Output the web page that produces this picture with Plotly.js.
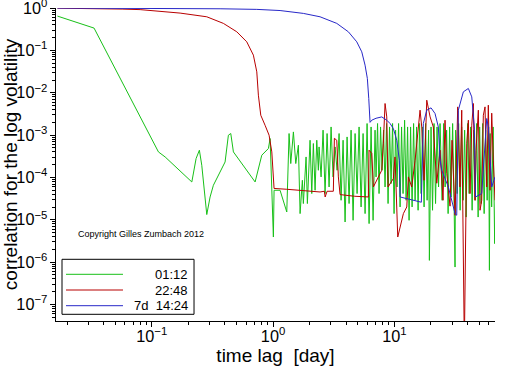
<!DOCTYPE html>
<html>
<head>
<meta charset="utf-8">
<script src="https://cdn.plot.ly/plotly-3.0.1.min.js"></script>
<style>html,body{margin:0;padding:0;background:#fff;}#chart{width:512px;height:366px;}</style>
</head>
<body>
<div id="chart"></div>
<script>
// ---- data (time lag in days, correlation) ----
const seriesNames = ['01:12', '22:48', '7d  14:24'];
const seriesColors = ['#18c018', '#b80000', '#2828c8'];

const greenX = [0.01667, 0.0334, 0.1134, 0.1288, 0.2138, 0.2319, 0.2468, 0.2583, 0.284, 0.3024, 0.322, 0.402, 0.428, 0.448, 0.471, 0.711, 0.807, 0.915, 0.945, 0.976, 1.006, 1.019, 1.142, 1.297, 1.355, 1.399, 1.471, 1.539, 1.617, 1.670, 1.744, 1.777, 1.871, 1.918, 2.018, 2.085, 2.149, 2.220, 2.293, 2.363,
  2.395, 2.488, 2.584, 2.684, 2.788, 2.896, 3.008, 3.125, 3.246, 3.371, 3.502, 3.637, 3.778, 3.924, 4.076, 4.234, 4.398, 4.568, 4.745, 4.928, 5.119, 5.317, 5.523, 5.737, 5.959, 6.190, 6.429, 6.678, 6.934,
  7.066, 7.270, 7.481, 7.697, 7.919, 8.148, 8.384, 8.626, 8.876, 9.132, 9.397, 9.668, 9.948, 10.24, 10.53, 10.84, 11.15, 11.47, 11.80, 12.15, 12.50, 12.86, 13.23, 13.61, 14.01, 14.41, 14.83, 15.26, 15.70, 16.15, 16.62, 17.10, 17.59, 18.10, 18.63, 19.16, 19.45, 20.07, 20.65, 21.25, 21.87, 22.50, 23.15, 23.82,
  24.77, 25.48, 26.22, 26.98, 27.76, 28.56, 29.39, 30.24, 31.11, 31.66, 32.01, 32.94, 33.89, 34.87, 35.88, 36.92, 37.99, 39.08, 40.21, 41.38, 42.57, 43.80, 45.07, 46.37, 47.71, 49.09, 50.51, 51.97, 53.48, 55.02, 56.61, 58.25, 59.93, 60.8, 61.66, 63.45, 65.28, 67.17, 69.1];
const greenY = [0.647, 0.337, 4.01e-4, 3.05e-4, 7.83e-5, 2.8e-4, 4.4e-4, 1.94e-4, 1.33e-5, 3.46e-5, 6.54e-5, 2.32e-4, 9.95e-4, 1.09e-3, 4.01e-4, 7.83e-5, 3.35e-4, 4.82e-4, 8.31e-4, 4.98e-5, 3.92e-6, 4.98e-5, 4.98e-5, 1.53e-5, 1.09e-3, 2.13e-4, 1.19e-3, 2.13e-4, 5.77e-4, 1.4e-5, 8.59e-5, 2.42e-5, 3.05e-4, 2.42e-5, 7.57e-4, 4.16e-5, 6.33e-4, 4.98e-5, 7.57e-4, 1.48e-4,
  5.26e-4, 1.03e-4, 1.31e-3, 4.16e-5, 1.09e-3, 5.96e-5, 1.56e-3, 1.03e-4, 5.26e-4, 1.48e-4, 1.09e-3, 2.89e-5, 7.57e-4, 8.87e-6, 9.06e-4, 2.42e-5, 1.31e-3, 9.73e-6, 1.09e-3, 4.16e-5, 1.56e-3, 2.01e-5, 1.09e-3, 1.4e-5, 1.88e-3, 8.13e-6, 1.56e-3, 9.73e-6, 1.31e-3,
  1.03e-4, 1.88e-3, 4.16e-5, 1.56e-3, 1.48e-4, 1.31e-3, 5.96e-5, 1.88e-3, 2.42e-5, 1.56e-3, 7.18e-5, 1.88e-3, 1.4e-5, 1.31e-3, 5.96e-5, 1.88e-3, 2.01e-5, 1.56e-3, 4.16e-5, 2.25e-3, 2.89e-5, 1.56e-3, 9.73e-6, 1.56e-3, 2.01e-5, 1.88e-3, 2.89e-5, 1.56e-3, 1.68e-5, 1.88e-3, 4.16e-5, 1.56e-3, 2.01e-5, 1.88e-3, 2.89e-5, 1.31e-3, 1.1e-6, 1.56e-3, 1.68e-5, 1.88e-3, 2.42e-5, 1.56e-3, 5.96e-5, 1.88e-3,
  2.89e-5, 1.88e-3, 5.96e-5, 1.31e-3, 1.4e-5, 1.56e-3, 3.46e-5, 1.88e-3, 2.01e-5, 7.66e-7, 1.31e-3, 4.16e-5, 1.88e-3, 1.68e-5, 1.56e-3, 2.89e-5, 1.31e-3, 1.16e-5, 1.88e-3, 4.16e-5, 1.56e-3, 1.68e-5, 1.31e-3, 2.89e-5, 1.88e-3, 1.16e-5, 1.56e-3, 2.42e-5, 1.88e-3, 1.4e-5, 1.31e-3, 2.89e-5, 1.56e-3, 6.4e-7, 1.09e-3, 2.01e-5, 1.56e-3, 2.74e-6, 2.55e-4];

const redX = [0.01667, 0.0375, 0.0569, 0.0801, 0.117, 0.1712, 0.284, 0.3893, 0.5022, 0.6068, 0.688, 0.734, 0.7565, 0.7917, 0.859, 0.927, 0.976, 1.006, 1.019, 1.297, 1.568, 2.44, 2.648, 2.688, 2.788, 3.14, 3.203, 3.351, 3.454, 3.567, 4.681, 6.107, 6.185, 6.512, 6.713, 6.934, 7.873, 8.116, 8.384, 8.659, 8.876, 9.813, 10.13, 10.67, 11.87, 12.66, 13.05, 13.91, 14.83, 16.29, 16.82, 17.59, 18.50, 19.72, 20.96, 22.37, 23.82, 25.20, 26.18, 27.04, 28.79, 29.91, 31.66, 33.32, 34.80, 35.94, 37.77, 39.54, 40.76, 42.10, 43.48, 44.82, 46.28, 47.17, 49.27, 50.88, 52.55, 54.17, 55.95, 57.78, 59.56, 61.51, 63.53, 65.49, 67.64];
const redY = [0.995, 0.98, 0.947, 0.92, 0.849, 0.762, 0.623, 0.435, 0.2753, 0.1597, 0.0774, 0.0312, 0.00877, 0.00295, 0.00171, 9.95e-4, 4.01e-4, 1.2e-4, 5.5e-5, 5.26e-5, 4.98e-5, 4.54e-5, 4.72e-5, 3.46e-5, 4.72e-5, 4.72e-5, 8.4e-4, 7.57e-4, 1.03e-4, 3.94e-5, 3.6e-5, 3.46e-5, 4.4e-4, 3.7e-4, 5.96e-5, 7.3e-5, 1.48e-4, 6.44e-4, 5.58e-3, 2.69e-3, 5.96e-5, 9.42e-5, 3.05e-4, 3.92e-6, 1.4e-5, 2.01e-5, 1.03e-4, 5.96e-5, 2.55e-4, 3.88e-3, 1.56e-3, 8.59e-5, 6.68e-3, 2.69e-3, 1.56e-3, 7.3e-5, 4.4e-4, 2.89e-5, 2.25e-3, 1.26e-4, 2.1e-5, 7.57e-4, 1.28e-5, 4.64e-3, 5.96e-5, 3.88e-3, 1e-8, 6.44e-4, 2.25e-3, 4.16e-5, 1.71e-3, 5.58e-3, 2.89e-5, 4.4e-4, 3.88e-3, 1.68e-5, 2.89e-5, 2.95e-3, 4.64e-3, 5.96e-5, 5.09e-3, 4.98e-5, 3.30e-3, 2.55e-4, 2.89e-5];

const blueX = [0.01667, 0.0548, 0.1712, 0.3657, 0.734, 1.142, 1.777, 2.44, 3.351, 4.177, 4.898, 5.386, 5.734, 5.99, 6.152, 6.305, 6.512, 7.066, 7.873, 8.659, 9.218, 9.813, 10.47, 11.0, 11.15, 16.70, 17.34, 18.50, 20.07, 21.65, 23.05, 23.82, 24.59, 27.88, 31.66, 32.69, 33.70, 37.06, 40.76, 43.48, 45.66, 46.71, 52.55, 57.78, 59.56, 61.51, 63.53, 67.64];
const blueY = [1.0, 1.0, 0.99, 0.963, 0.932, 0.875, 0.749, 0.623, 0.435, 0.2753, 0.1597, 0.0927, 0.0449, 0.0218, 0.00733, 0.0020, 0.00225, 0.0025, 0.00269, 0.00225, 0.00188, 0.00143, 7.57e-4, 2.55e-4, 3.46e-5, 2.6e-5, 1.88e-3, 3.88e-3, 4.4e-3, 3.24e-3, 1.56e-3, 2.55e-4, 1.48e-4, 5.96e-5, 1.4e-5, 1.28e-5, 3.88e-3, 0.0105, 0.01264, 8.0e-3, 1.56e-3, 3.46e-5, 4.16e-5, 2.47e-3, 1.56e-3, 3.05e-4, 5.96e-5, 1.03e-4];

const xTitle = 'time lag  [day]';
const yTitle = 'correlation for the log volatility';
const copyrightText = 'Copyright Gilles Zumbach 2012';

// ---- drawing ----
const nb = s => s.replace(/ /g, '\u00a0');
const FONT = 'Liberation Sans, Arial, Helvetica, sans-serif';
const xs = [greenX, redX, blueX];
const ys = [greenY, redY, blueY];
const traces = xs.map((x, i) => ({
  type: 'scatter', mode: 'lines', x: x, y: ys[i], name: seriesNames[i],
  line: {color: seriesColors[i], width: 1}, hoverinfo: 'skip'
}));

const alias = {'1': '10<sup>0</sup>', '10': '10<sup>1</sup>'};
function axisBase() {
  return {
    type: 'log', dtick: 1, tick0: 0, exponentformat: 'power',
    showline: true, linecolor: 'black', linewidth: 1, mirror: false,
    ticks: 'outside', ticklen: 5, tickcolor: 'black', tickwidth: 1,
    showgrid: false, zeroline: false,
    ticklabeloverflow: 'allow',
    tickfont: {size: 13, color: 'black', family: FONT},
    labelalias: alias,
    minor: {ticks: 'outside', ticklen: 3, tickcolor: 'black', tickwidth: 1, dtick: 'D1', showgrid: false}
  };
}
const xaxis = Object.assign(axisBase(), {
  range: [-1.79, 1.83],
  ticklabelstandoff: -4,
  title: {text: nb(xTitle), font: {size: 19, family: FONT, color: 'black'}, standoff: 8}
});
const yaxis = Object.assign(axisBase(), {
  range: [-7.39, 0.002],
  title: {text: yTitle, font: {size: 19, family: FONT, color: 'black'}, standoff: 3}
});

// hand-made legend (box, sample lines, right-aligned labels)
const legX0 = 0.0137, legX1 = 0.3144, legY0 = 0.0214, legY1 = 0.1971;
const legRowY = [0.1492, 0.0990, 0.0489];
const shapes = [{type: 'rect', xref: 'paper', yref: 'paper', x0: legX0, x1: legX1, y0: legY0, y1: legY1,
  line: {color: 'black', width: 1}, fillcolor: 'white', layer: 'above'}];
const annotations = [{xref: 'paper', yref: 'paper', x: 0.1936, y: 0.2764, xanchor: 'center', yanchor: 'middle',
  text: copyrightText, showarrow: false, font: {size: 9, family: FONT, color: 'black'}}];
seriesNames.forEach((n, i) => {
  shapes.push({type: 'line', xref: 'paper', yref: 'paper', x0: 0.0228, x1: 0.1526, y0: legRowY[i], y1: legRowY[i],
    line: {color: seriesColors[i], width: 1}, layer: 'above'});
  annotations.push({xref: 'paper', yref: 'paper', x: 0.3052, y: legRowY[i], xanchor: 'right', yanchor: 'middle',
    text: nb(n), showarrow: false, font: {size: 13, family: FONT, color: 'black'}});
});

const layout = {
  width: 512, height: 366,
  margin: {l: 56, r: 17, t: 8, b: 45, pad: 0},
  paper_bgcolor: 'white', plot_bgcolor: 'white',
  showlegend: false,
  font: {family: FONT, color: 'black'},
  xaxis: xaxis, yaxis: yaxis,
  shapes: shapes, annotations: annotations
};
Plotly.newPlot('chart', traces, layout, {displayModeBar: false, staticPlot: true});
</script>
</body>
</html>
